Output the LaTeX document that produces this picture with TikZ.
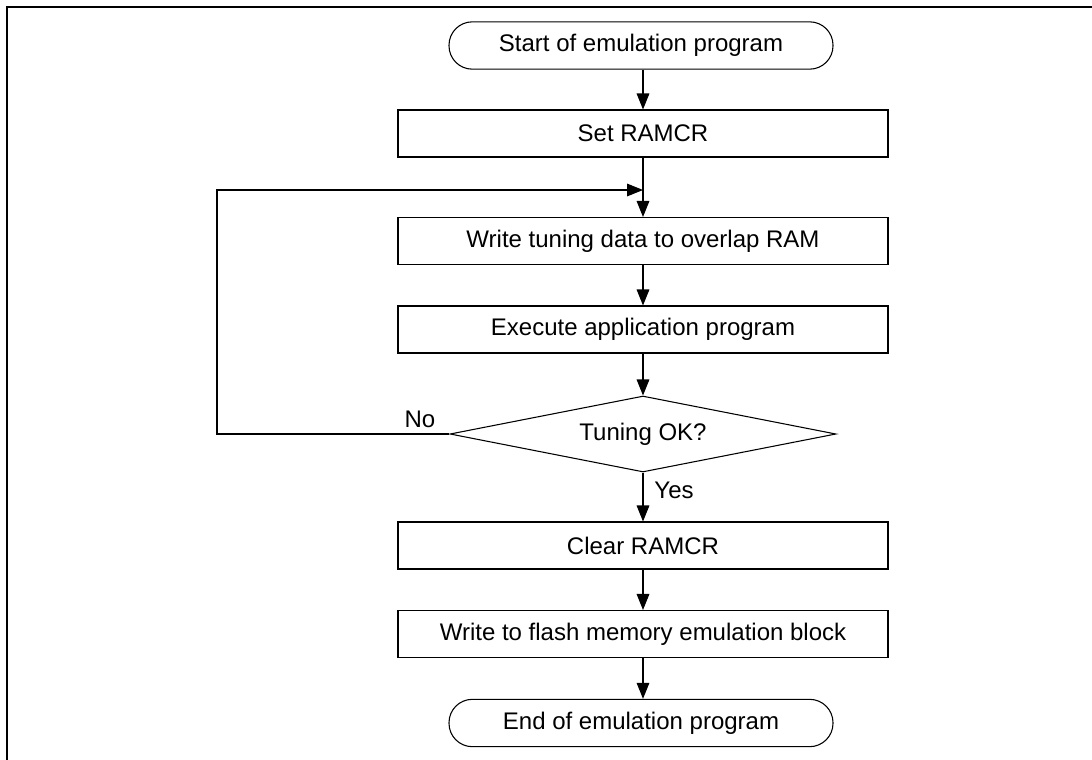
\documentclass[tikz,border=0pt]{standalone}
\usepackage{fontspec}
\setmainfont{Liberation Sans}
\usetikzlibrary{arrows.meta, shapes.geometric}

\begin{document}
\begin{tikzpicture}[x=0.75pt, y=-0.75pt, >={Triangle[length=12pt, width=9.5pt]},
    every node/.style={font=\fontsize{18}{21}\selectfont},
    hop/.style={draw, line width=0.8pt, minimum width=367.5pt, minimum height=35.25pt},
    mutchot/.style={draw, line width=0.8pt, rounded corners=17.5pt, minimum width=288pt, minimum height=35.5pt},
    thoi/.style={draw, diamond, aspect=5.08, line width=0.8pt, inner sep=0pt, minimum width=289.5pt, minimum height=57pt},
    noi/.style={->, line width=0.8pt}]
    % Khung trang (chỉ cạnh trên và cạnh trái)
    \useasboundingbox (0,0) rectangle (1092,760);
    \draw[line width=1.5pt] (7,760) -- (7,6.5) -- (1092,6.5);

    % Các khối của lưu đồ
    \node[mutchot] (batdau) at (641,45.5) {Start of emulation program};
    \node[hop]     (datram) at (643,133.5) {Set RAMCR};
    \node[hop]     (ghidl)  at (643,241)   {Write tuning data to overlap RAM};
    \node[hop]     (chay)   at (643,329.5) {Execute application program};
    \node[thoi]    (kiemtra) at (643,434)  {Tuning OK?};
    \node[hop]     (xoaram) at (643,545.5) {Clear RAMCR};
    \node[hop]     (ghiflash) at (643,634) {Write to flash memory emulation block};
    \node[mutchot] (ketthuc) at (641,723)  {End of emulation program};

    % Nhãn nhánh
    \node (nhanno)  at (420,419) {No};
    \node (nhanyes) at (674,490) {Yes};

    % Mũi tên nối các khối
    \coordinate (vong) at (643,190);
    \draw[noi] (batdau.south -| datram) -- (datram);
    \draw[noi] (datram) -- (ghidl);
    \draw[noi] (ghidl) -- (chay);
    \draw[noi] (chay) -- (kiemtra);
    \draw[noi] (kiemtra) -- (xoaram);
    \draw[noi] (xoaram) -- (ghiflash);
    \draw[noi] (ghiflash) -- (ketthuc.north -| ghiflash);
    \draw[noi] (kiemtra.west) -- (217,434) |- (vong);
\end{tikzpicture}
\end{document}
